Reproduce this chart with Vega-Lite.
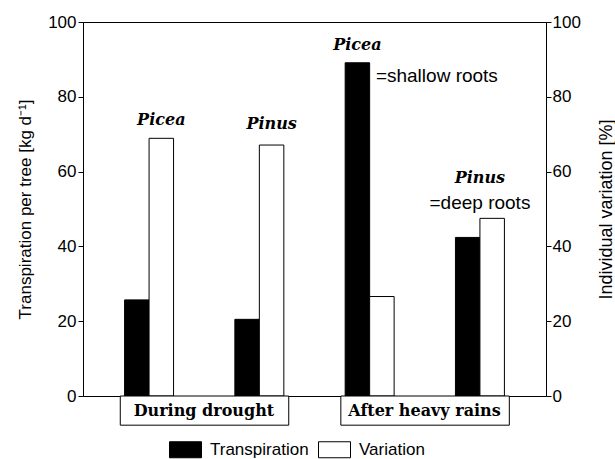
{
  "$schema": "https://vega.github.io/schema/vega-lite/v6.json",
  "width": 463,
  "height": 374,
  "autosize": {"type": "none"},
  "padding": {"left": 83, "top": 22, "right": 69, "bottom": 63},
  "background": "white",
  "config": {
    "view": {"stroke": "black", "strokeWidth": 1},
    "axis": {
      "grid": false,
      "domainColor": "black",
      "tickColor": "black",
      "tickSize": 5,
      "labelColor": "black",
      "labelFont": "Liberation Sans",
      "labelFontSize": 17,
      "labelPadding": 2,
      "titleColor": "black",
      "titleFont": "Liberation Sans",
      "titleFontSize": 17,
      "titleFontWeight": "normal"
    }
  },
  "datasets": {
    "bars": [
      {"group": "Picea drought", "series": "Transpiration", "value": 25.7},
      {"group": "Picea drought", "series": "Variation", "value": 68.9},
      {"group": "Pinus drought", "series": "Transpiration", "value": 20.5},
      {"group": "Pinus drought", "series": "Variation", "value": 67.1},
      {"group": "Picea rain", "series": "Transpiration", "value": 89.1},
      {"group": "Picea rain", "series": "Variation", "value": 26.6},
      {"group": "Pinus rain", "series": "Transpiration", "value": 42.4},
      {"group": "Pinus rain", "series": "Variation", "value": 47.5}
    ]
  },
  "layer": [
    {
      "data": {"name": "bars"},
      "mark": {"type": "bar", "stroke": "black", "strokeWidth": 1},
      "encoding": {
        "x": {
          "field": "group", "type": "nominal",
          "scale": {"domain": ["Picea drought", "Pinus drought", "Picea rain", "Pinus rain"], "paddingInner": 0.556, "paddingOuter": 0.377},
          "axis": null
        },
        "xOffset": {"field": "series", "type": "nominal", "scale": {"domain": ["Transpiration", "Variation"], "paddingInner": 0, "paddingOuter": 0}},
        "y": {
          "field": "value", "type": "quantitative",
          "scale": {"domain": [0, 100], "nice": false},
          "axis": {"orient": "left", "values": [0, 20, 40, 60, 80, 100], "title": "Transpiration per tree [kg d⁻¹]", "titlePadding": 13}
        },
        "color": {
          "field": "series", "type": "nominal",
          "scale": {"domain": ["Transpiration", "Variation"], "range": ["black", "white"]},
          "legend": {
            "title": null,
            "orient": "none",
            "legendX": 86,
            "legendY": 411,
            "direction": "horizontal",
            "symbolType": "M-1,-0.5H1V0.5H-1Z",
            "symbolSize": 1024,
            "symbolStrokeColor": "black",
            "symbolStrokeWidth": 1,
            "symbolOpacity": 1,
            "labelFont": "Liberation Sans",
            "labelFontSize": 17,
            "labelColor": "black",
            "labelOffset": 8,
            "columnPadding": 7
          }
        }
      }
    },
    {
      "data": {"values": [
        {"group": "Picea drought", "series": "Variation", "y": 73.8, "label": "Picea"},
        {"group": "Pinus drought", "series": "Variation", "y": 72.7, "label": "Pinus"},
        {"group": "Picea rain", "series": "Transpiration", "y": 93.9, "label": "Picea"}
      ]},
      "mark": {"type": "text", "font": "DejaVu Serif", "fontStyle": "italic", "fontWeight": "bold", "fontSize": 16, "baseline": "middle", "align": "center", "color": "black"},
      "encoding": {
        "x": {"field": "group", "type": "nominal"},
        "xOffset": {"field": "series", "type": "nominal"},
        "y": {"field": "y", "type": "quantitative", "axis": null},
        "text": {"field": "label"}
      }
    },
    {
      "data": {"values": [
        {"group": "Pinus rain", "y": 58.3, "label": "Pinus"}
      ]},
      "mark": {"type": "text", "font": "DejaVu Serif", "fontStyle": "italic", "fontWeight": "bold", "fontSize": 16, "baseline": "middle", "align": "center", "color": "black"},
      "encoding": {
        "x": {"field": "group", "type": "nominal"},
        "y": {"field": "y", "type": "quantitative", "axis": null},
        "text": {"field": "label"}
      }
    },
    {
      "data": {"values": [
        {"group": "Pinus rain", "y": 51.7, "label": "=deep roots"}
      ]},
      "mark": {"type": "text", "font": "Liberation Sans", "fontSize": 19, "baseline": "middle", "align": "center", "color": "black"},
      "encoding": {
        "x": {"field": "group", "type": "nominal"},
        "y": {
          "field": "y", "type": "quantitative",
          "axis": {"orient": "right", "values": [0, 20, 40, 60, 80, 100], "title": "Individual variation [%]", "titleAngle": 270, "titlePadding": 35, "titleFontSize": 18, "tickSize": 5, "labelPadding": 1}
        },
        "text": {"field": "label"}
      }
    },
    {
      "data": {"values": [
        {"group": "Picea rain", "series": "Variation", "y": 85.6, "label": "=shallow roots"}
      ]},
      "mark": {"type": "text", "font": "Liberation Sans", "fontSize": 19, "baseline": "middle", "align": "left", "dx": -6, "color": "black"},
      "encoding": {
        "x": {"field": "group", "type": "nominal"},
        "xOffset": {"field": "series", "type": "nominal"},
        "y": {"field": "y", "type": "quantitative", "axis": null},
        "text": {"field": "label"}
      }
    },
    {
      "data": {"values": [
        {"period": "During drought", "first": "Picea drought", "last": "Pinus drought"},
        {"period": "After heavy rains", "first": "Picea rain", "last": "Pinus rain"}
      ]},
      "mark": {"type": "rect", "fill": "white", "stroke": "black", "strokeWidth": 1},
      "encoding": {
        "x": {"field": "first", "type": "nominal", "bandPosition": -0.088},
        "x2": {"field": "last", "bandPosition": 1.1},
        "y": {"datum": 0, "type": "quantitative", "axis": null},
        "y2": {"datum": -7.8}
      }
    },
    {
      "data": {"values": [
        {"period": "During drought", "first": "Picea drought"},
        {"period": "After heavy rains", "first": "Picea rain"}
      ]},
      "mark": {"type": "text", "font": "DejaVu Serif", "fontWeight": "bold", "fontSize": 16, "baseline": "middle", "align": "center", "color": "black"},
      "encoding": {
        "x": {"field": "first", "type": "nominal", "bandPosition": 1.62},
        "y": {"datum": -3.9, "type": "quantitative", "axis": null},
        "text": {"field": "period"}
      }
    }
  ],
  "resolve": {"axis": {"y": "independent"}}
}
